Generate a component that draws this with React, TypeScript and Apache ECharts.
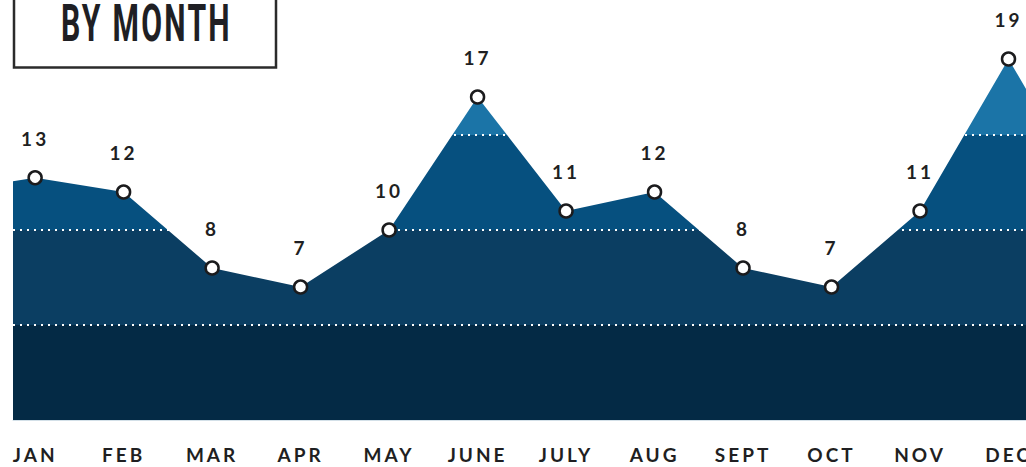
import React, { useEffect, useRef } from 'react';
import * as echarts from 'echarts';

const months = ['JAN', 'FEB', 'MAR', 'APR', 'MAY', 'JUNE', 'JULY', 'AUG', 'SEPT', 'OCT', 'NOV', 'DEC'];
const values = [12.75, 12, 8, 7, 10, 17, 11, 12, 8, 7, 11, 19];
// values just outside the visible range (previous December, next January)
const prevDecValue = 12;
const nextJanValue = 11;
const bandBreaks = [0, 5, 10, 15, 100];
const titleText = 'BY MONTH';

export default function App() {
  const ref = useRef<HTMLDivElement>(null);

  useEffect(() => {
    const chart = echarts.init(ref.current!, null, { renderer: 'svg' });
    const bandColors = ['#042a45', '#0b3e62', '#06507f', '#1b74a7'];
    const areaData = [
      [-1, prevDecValue],
      ...values.map((v, i) => [i, v]),
      [values.length, nextJanValue],
    ];
    const pointData = values.map((v, i) => [i, v]);

    chart.setOption({
      animation: false,
      backgroundColor: '#ffffff',
      textStyle: { fontFamily: 'Lato' },
      grid: { left: 13, right: 0, top: 40, bottom: 47, containLabel: false },
      xAxis: {
        type: 'value',
        min: -0.25,
        max: 12,
        z: 3,
        axisLine: { show: true, lineStyle: { color: '#d3e0e8', width: 1 } },
        axisTick: { show: false },
        splitLine: { show: false },
        axisLabel: {
          customValues: months.map((_, i) => i),
          formatter: (v: number) => months[Math.round(v)] ?? '',
          color: '#1f1f22',
          fontFamily: 'Lato',
          fontWeight: 'bold',
          fontSize: 19,
          margin: 25,
        },
      },
      yAxis: {
        type: 'value',
        min: 0,
        max: 20,
        interval: 5,
        z: 3,
        axisLine: { show: false },
        axisTick: { show: false },
        axisLabel: { show: false },
        splitLine: {
          show: true,
          showMinLine: false,
          showMaxLine: false,
          lineStyle: { color: '#ffffff', width: 2, type: [2, 5] },
        },
      },
      visualMap: {
        type: 'piecewise',
        show: false,
        dimension: 1,
        seriesIndex: 0,
        pieces: bandColors.map((c, i) => ({ gte: bandBreaks[i], lt: bandBreaks[i + 1], color: c })),
      },
      series: [
        {
          type: 'line',
          data: areaData,
          showSymbol: false,
          symbol: 'none',
          lineStyle: { width: 0 },
          areaStyle: { opacity: 1 },
          z: 2,
        },
        {
          type: 'scatter',
          data: pointData,
          symbol: 'circle',
          symbolSize: 13,
          z: 5,
          itemStyle: { color: '#ffffff', borderColor: '#1b1b1d', borderWidth: 2.5, opacity: 1 },
          label: {
            show: true,
            position: 'top',
            distance: 22,
            formatter: (p: any) => String(Math.round(p.value[1])),
            color: '#1f1f22',
            fontFamily: 'Lato',
            fontWeight: 'bold',
            fontSize: 19,
          },
        },
      ],
      graphic: [
        {
          type: 'rect',
          z: 10,
          shape: { x: 14, y: -10, width: 262, height: 77.5 },
          style: { fill: '#ffffff', stroke: '#2b2b2b', lineWidth: 2.5 },
        },
        {
          type: 'text',
          z: 11,
          x: 146.5,
          y: 23.5,
          scaleX: 0.755,
          scaleY: 1.28,
          style: {
            text: titleText,
            font: 'bold 40px Roboto',
            fill: '#1f1f24',
            align: 'center',
            verticalAlign: 'middle',
          },
        },
      ],
    });

    return () => chart.dispose();
  }, []);

  return (
    <>
      <style>{`.bym-chart text[style*="Lato"] { letter-spacing: 3px; }
.bym-chart text[style*="Roboto"] { letter-spacing: 3px; }`}</style>
      <div
        ref={ref}
        className="bym-chart"
        style={{ position: 'fixed', left: 0, top: 0, width: 1097, height: 467 }}
      />
    </>
  );
}
